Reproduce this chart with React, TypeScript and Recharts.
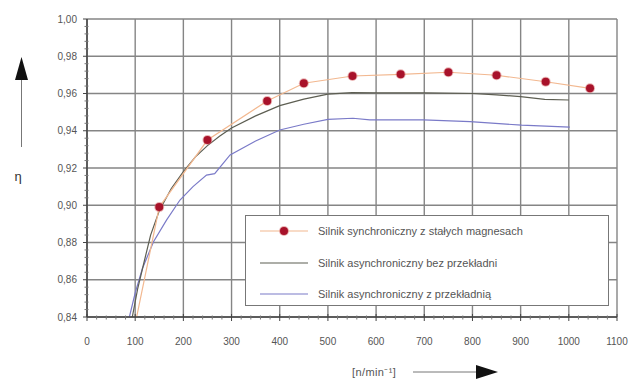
import React from "react";
import { LineChart, Line, XAxis, YAxis, CartesianGrid } from "recharts";

const seriesNames = [
  "Silnik synchroniczny z stałych magnesach",
  "Silnik asynchroniczny bez przekładni",
  "Silnik asynchroniczny z przekładnią",
];

const xMajorTicks = [0, 100, 200, 300, 400, 500, 600, 700, 800, 900, 1000, 1100];
const yMajorTicks = [0.84, 0.86, 0.88, 0.9, 0.92, 0.94, 0.96, 0.98, 1.0];
const xMinorTicks = [
  0, 20, 40, 60, 80, 100, 120, 140, 160, 180, 200, 220, 240, 260, 280, 300, 320, 340, 360, 380,
  400, 420, 440, 460, 480, 500, 520, 540, 560, 580, 600, 620, 640, 660, 680, 700, 720, 740, 760,
  780, 800, 820, 840, 860, 880, 900, 920, 940, 960, 980, 1000, 1020, 1040, 1060, 1080, 1100,
];
const yMinorTicks = [
  0.84, 0.844, 0.848, 0.852, 0.856, 0.86, 0.864, 0.868, 0.872, 0.876, 0.88, 0.884, 0.888, 0.892,
  0.896, 0.9, 0.904, 0.908, 0.912, 0.916, 0.92, 0.924, 0.928, 0.932, 0.936, 0.94, 0.944, 0.948,
  0.952, 0.956, 0.96, 0.964, 0.968, 0.972, 0.976, 0.98, 0.984, 0.988, 0.992, 0.996, 1.0,
];

// synchronous motor (markers) – m = draw marker
const syncData = [
  { x: 103, y: 0.84, m: false },
  { x: 150, y: 0.899, m: true },
  { x: 250, y: 0.935, m: true },
  { x: 374, y: 0.956, m: true },
  { x: 450, y: 0.9655, m: true },
  { x: 551, y: 0.9694, m: true },
  { x: 651, y: 0.9703, m: true },
  { x: 750, y: 0.9714, m: true },
  { x: 850, y: 0.9698, m: true },
  { x: 952, y: 0.9663, m: true },
  { x: 1044, y: 0.9628, m: true },
];

const asyncNoGear = [
  { x: 94, y: 0.84 },
  { x: 105, y: 0.855 },
  { x: 118, y: 0.869 },
  { x: 132, y: 0.884 },
  { x: 150, y: 0.897 },
  { x: 175, y: 0.909 },
  { x: 200, y: 0.918 },
  { x: 225, y: 0.926 },
  { x: 250, y: 0.932 },
  { x: 275, y: 0.937 },
  { x: 300, y: 0.9415 },
  { x: 350, y: 0.948 },
  { x: 400, y: 0.9535 },
  { x: 450, y: 0.957 },
  { x: 500, y: 0.9597 },
  { x: 550, y: 0.9605 },
  { x: 600, y: 0.9603 },
  { x: 700, y: 0.9603 },
  { x: 800, y: 0.96 },
  { x: 850, y: 0.9593 },
  { x: 900, y: 0.9583 },
  { x: 950, y: 0.9568 },
  { x: 1000, y: 0.9565 },
];

const asyncGear = [
  { x: 88, y: 0.84 },
  { x: 100, y: 0.853 },
  { x: 115, y: 0.866 },
  { x: 138, y: 0.8804 },
  { x: 165, y: 0.892 },
  { x: 193, y: 0.9028 },
  { x: 220, y: 0.91 },
  { x: 248, y: 0.9162 },
  { x: 265, y: 0.917 },
  { x: 297, y: 0.927 },
  { x: 350, y: 0.9345 },
  { x: 400, y: 0.9404 },
  { x: 450, y: 0.9435 },
  { x: 500, y: 0.9461 },
  { x: 552, y: 0.9467 },
  { x: 587, y: 0.9458 },
  { x: 698, y: 0.9458 },
  { x: 795, y: 0.9449 },
  { x: 902, y: 0.943 },
  { x: 1002, y: 0.9419 },
];

const RED = "#a8122a";
const ORANGE = "#f2b890";
const DARK = "#5d5e52";
const BLUE = "#7a7ac8";
const GRID = "#858585";
const TEXT = "#555555";
const FONT = "'Liberation Sans', Arial, sans-serif";

const fmtY = (v: number) => v.toFixed(2).replace(".", ",");
const isMajor = (v: number, list: number[]) => list.some((m) => Math.abs(m - v) < 1e-6);

const XTick = (props: any) => {
  const { x, y, payload } = props;
  const v = payload.value;
  if (isMajor(v, xMajorTicks)) {
    return (
      <g>
        <line x1={x} y1={y - 3} x2={x} y2={y + 4} stroke="#444" strokeWidth={1} />
        <text x={x} y={y + 28} textAnchor="middle" fontSize={10} fontFamily={FONT} style={{ fill: TEXT }}>
          {v}
        </text>
      </g>
    );
  }
  return <line x1={x} y1={y - 1.5} x2={x} y2={y + 2.5} stroke="#777" strokeWidth={1} />;
};

const YTick = (props: any) => {
  const { x, y, payload } = props;
  const v = payload.value;
  if (isMajor(v, yMajorTicks)) {
    return (
      <g>
        <line x1={x - 4} y1={y} x2={x} y2={y} stroke="#444" strokeWidth={1} />
        <text x={x - 10} y={y + 3.5} textAnchor="end" fontSize={10} fontFamily={FONT} style={{ fill: TEXT }}>
          {fmtY(v)}
        </text>
      </g>
    );
  }
  return <line x1={x - 2.5} y1={y} x2={x + 1.5} y2={y} stroke="#777" strokeWidth={1} />;
};

const SyncDot = (props: any) => {
  const { cx, cy, payload } = props;
  if (!payload || !payload.m) return <g key={props.key} />;
  return (
    <g key={props.key}>
      <circle cx={cx} cy={cy} r={5} fill="#d66a6a" opacity={0.5} />
      <circle cx={cx} cy={cy} r={4} fill={RED} />
    </g>
  );
};

const YLabel = () => (
  <g>
    <line x1={21.5} y1={78} x2={21.5} y2={147} stroke="#777" strokeWidth={1} />
    <polygon points="15,80 28,80 21.5,57" fill="#111" />
    <text x={18} y={181} fontSize={13} style={{ fill: "#333" }} fontFamily={FONT} textAnchor="middle">
      η
    </text>
  </g>
);

const XLabel = (props: any) => {
  const vb = props.viewBox || { x: 87, y: 317, width: 530 };
  const sx = vb.x + vb.width / 2;
  const y = vb.y + 55;
  return (
    <g>
      <text x={sx} y={y + 4} fontSize={11} style={{ fill: TEXT }} fontFamily={FONT} letterSpacing={0.4}>
        [n/min⁻¹]
      </text>
      <line x1={sx + 61} y1={y} x2={sx + 126} y2={y} stroke="#777" strokeWidth={1} />
      <polygon points={`${sx + 124},${y - 7} ${sx + 124},${y + 7} ${sx + 146},${y}`} fill="#111" />
    </g>
  );
};

const legendItems = [
  { name: seriesNames[0], color: ORANGE, marker: true },
  { name: seriesNames[1], color: DARK, marker: false },
  { name: seriesNames[2], color: BLUE, marker: false },
];

export default function App() {
  return (
    <div style={{ position: "absolute", left: 0, top: 0, width: 638, height: 391, background: "#fff" }}>
      <LineChart
        width={638}
        height={391}
        margin={{ top: 19, right: 21, bottom: 44, left: 27 }}
      >
        <CartesianGrid
          stroke={GRID}
          strokeWidth={1.4}
          horizontalValues={yMajorTicks}
          verticalValues={xMajorTicks}
        />
        <XAxis
          type="number"
          dataKey="x"
          domain={[0, 1100]}
          ticks={xMinorTicks}
          interval={0}
          height={30}
          axisLine={{ stroke: "#444", strokeWidth: 1.5 }}
          tickLine={false}
          tickSize={0}
          tickMargin={0}
          tick={<XTick />}
          allowDataOverflow
          label={{ content: (p: any) => <XLabel {...p} /> }}
        />
        <YAxis
          type="number"
          dataKey="y"
          domain={[0.84, 1.0]}
          ticks={yMinorTicks}
          interval={0}
          width={60}
          axisLine={{ stroke: "#444", strokeWidth: 1.5 }}
          tickLine={false}
          tickSize={0}
          tickMargin={0}
          tick={<YTick />}
          allowDataOverflow
          label={{ content: () => <YLabel /> }}
        />
        <Line
          data={asyncGear}
          dataKey="y"
          type="linear"
          stroke={BLUE}
          strokeWidth={1.2}
          dot={false}
          isAnimationActive={false}
          name={seriesNames[2]}
        />
        <Line
          data={asyncNoGear}
          dataKey="y"
          type="linear"
          stroke={DARK}
          strokeWidth={1.2}
          dot={false}
          isAnimationActive={false}
          name={seriesNames[1]}
        />
        <Line
          data={syncData}
          dataKey="y"
          type="linear"
          stroke={ORANGE}
          strokeWidth={1.2}
          dot={SyncDot}
          activeDot={false}
          isAnimationActive={false}
          name={seriesNames[0]}
        />
      </LineChart>
      <div
        style={{
          position: "absolute",
          left: 245,
          top: 215,
          width: 364,
          height: 91,
          background: "#fff",
          border: "1px solid #777",
          boxSizing: "border-box",
          fontFamily: FONT,
          fontSize: 11,
          color: TEXT,
        }}
      >
        {legendItems.map((it, i) => (
          <div key={i}>
            <svg
              width={50}
              height={16}
              style={{ position: "absolute", left: 14, top: 7 + i * 31.5, display: "block" }}
            >
              <line x1={0} y1={8} x2={48} y2={8} stroke={it.color} strokeWidth={1.2} />
              {it.marker && (
                <g>
                  <circle cx={24} cy={8} r={5} fill="#d66a6a" opacity={0.5} />
                  <circle cx={24} cy={8} r={4} fill={RED} />
                </g>
              )}
            </svg>
            <span
              style={{
                position: "absolute",
                left: 72,
                top: 7 + i * 31.5,
                lineHeight: "16px",
                whiteSpace: "nowrap",
              }}
            >
              {it.name}
            </span>
          </div>
        ))}
      </div>
    </div>
  );
}
